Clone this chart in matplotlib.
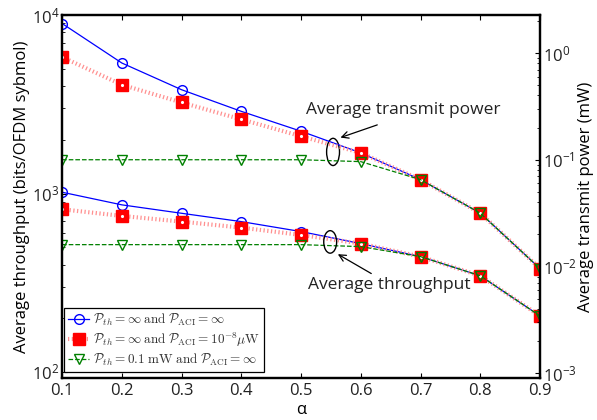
import numpy as np
import matplotlib
matplotlib.use("Agg")
import matplotlib.pyplot as plt
from matplotlib.patches import Ellipse

alpha = [0.1, 0.2, 0.3, 0.4, 0.5, 0.6, 0.7, 0.8, 0.9]

# average transmit power (mW), right axis
power_inf = [1.89, 0.806, 0.453, 0.284, 0.185, 0.116, 0.0651, 0.0316, 0.00956]
power_aci = [0.916, 0.504, 0.344, 0.239, 0.166, 0.116, 0.0651, 0.0316, 0.00956]
power_pth = [0.1, 0.1, 0.1, 0.1, 0.1, 0.096, 0.0651, 0.0316, 0.00956]

# average throughput (bits/OFDM symbol), left axis
thr_inf = [1017, 864, 775, 696, 612, 524, 443, 346, 206]
thr_aci = [816, 749, 696, 644, 586, 524, 443, 346, 206]
thr_pth = [517, 517, 517, 517, 517, 504, 443, 346, 206]

labels = [r'$\mathcal{P}_{th} = \infty\;\mathrm{and}\;\mathcal{P}_{\mathrm{ACI}} = \infty$',
          r'$\mathcal{P}_{th} = \infty\;\mathrm{and}\;\mathcal{P}_{\mathrm{ACI}} = 10^{-8}\mu\mathrm{W}$',
          r'$\mathcal{P}_{th} = 0.1\ \mathrm{mW}\;\mathrm{and}\;\mathcal{P}_{\mathrm{ACI}} = \infty$']

plt.rcParams['font.family'] = ['Open Sans', 'DejaVu Sans']
plt.rcParams['mathtext.fontset'] = 'custom'
plt.rcParams['mathtext.rm'] = 'Open Sans'
plt.rcParams['mathtext.it'] = 'Open Sans:italic'
plt.rcParams['font.size'] = 12
plt.rcParams['text.color'] = '#222222'
plt.rcParams['xtick.labelcolor'] = '#222222'
plt.rcParams['ytick.labelcolor'] = '#222222'

fig, ax = plt.subplots(figsize=(5.97, 4.2), dpi=100)
fig.subplots_adjust(left=0.104, right=0.9045, top=0.964, bottom=0.1)
ax2 = ax.twinx()

def draw(a, y1, y2, y3):
    h1, = a.plot(alpha, y1, '-', color='blue', lw=0.9, marker='o', ms=7,
                 mfc='none', mec='blue', mew=1.0)
    h2, = a.plot(alpha, y2, color='#ff9090', lw=3, ls=(0, (0.3, 0.6)),
                 marker='s', ms=8, mfc='red', mec='red')
    a.plot(alpha, y2, 'w.', ms=2.5, ls='none')
    h3, = a.plot(alpha, y3, '--', color='green', lw=0.9, marker='v', ms=7.5,
                 mfc='none', mec='green', mew=1.0)
    return [h1, h2, h3]

draw(ax, thr_inf, thr_aci, thr_pth)
handles = draw(ax2, power_inf, power_aci, power_pth)

ax.set_yscale('log')
ax2.set_yscale('log')
ax.set_xlim(0.1, 0.9)
ax.set_ylim(10 ** 1.966, 1e4)
ax2.set_ylim(10 ** -3.045, 10 ** 0.355)
ax.set_xticks(alpha)
ax.set_xticklabels([f'{a:.1f}' for a in alpha])

ax.tick_params(which='both', direction='in', top=True, right=False)
ax.tick_params(axis='y', pad=2)
ax2.tick_params(which='both', direction='in', left=False, pad=2)
for a in (ax, ax2):
    for s in a.spines.values():
        s.set_linewidth(1.6)

ax.set_xlabel(r'α', labelpad=2)
ax.set_ylabel('Average throughput (bits/OFDM sybmol)', labelpad=1)
ax2.set_ylabel('Average transmit power (mW)', labelpad=1)

# group markers and their captions
ax2.add_patch(Ellipse((0.567, 0.623), 0.027, 0.075, transform=ax2.transAxes,
                      fill=False, ec='black', lw=1.0))
ax2.add_patch(Ellipse((0.561, 0.375), 0.027, 0.062, transform=ax2.transAxes,
                      fill=False, ec='black', lw=1.0))
ax2.annotate('', xy=(0.577, 0.660), xytext=(0.665, 0.700),
             xycoords='axes fraction', textcoords='axes fraction',
             arrowprops=dict(arrowstyle='->', color='black', lw=0.9))
ax2.text(0.51, 0.738, 'Average transmit power', transform=ax2.transAxes,
         ha='left', va='center', fontsize=12.5)
ax2.annotate('', xy=(0.572, 0.345), xytext=(0.652, 0.284),
             xycoords='axes fraction', textcoords='axes fraction',
             arrowprops=dict(arrowstyle='->', color='black', lw=0.9))
ax2.text(0.515, 0.256, 'Average throughput', transform=ax2.transAxes,
         ha='left', va='center', fontsize=12.5)

leg = ax2.legend(handles, labels, loc='lower left', bbox_to_anchor=(0.004, 0.017),
                 borderaxespad=0, fontsize=9.5, handlelength=1.6, handletextpad=0.3,
                 labelspacing=0.2, borderpad=0.3, fancybox=False, framealpha=1)
leg.get_frame().set_edgecolor('black')
leg.get_frame().set_linewidth(0.9)
for t in leg.get_texts():
    t.set_math_fontfamily('cm')
    t.set_color('#333333')

fig.savefig('out.png', dpi=100)
